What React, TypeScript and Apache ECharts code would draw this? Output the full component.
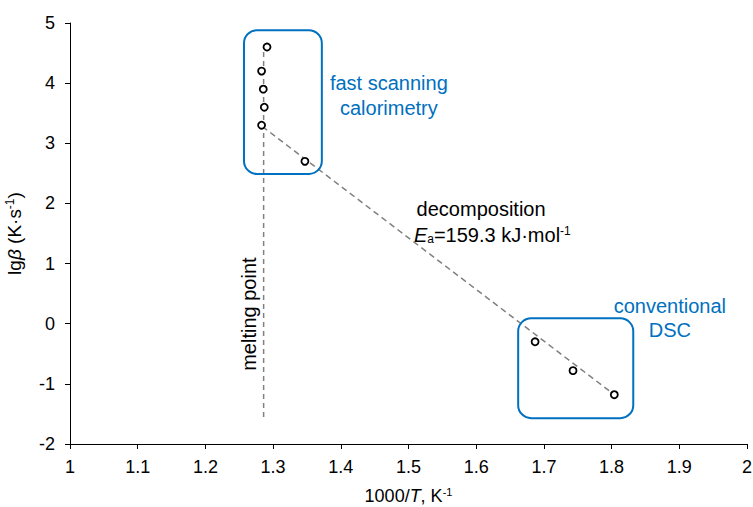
import React, { useEffect, useRef } from "react";
import * as echarts from "echarts";

// Data
const fscX = [1.291, 1.283, 1.2855, 1.287, 1.283, 1.347];
const fscY = [4.6, 4.2, 3.9, 3.6, 3.3, 2.7];
const dscX = [1.687, 1.743, 1.804];
const dscY = [-0.3, -0.78, -1.18];
const fitX = [1.284, 1.804];
const fitY = [3.28, -1.18];
const meltX = [1.286, 1.286];
const meltY = [-1.55, 4.6];

const FONT = "'Liberation Sans', Arial, sans-serif";
const BLUE = "#0070C0";

const zip = (xs: number[], ys: number[]) => xs.map((x, i) => [x, ys[i]]);

export default function App() {
  const ref = useRef<HTMLDivElement>(null);
  useEffect(() => {
    if (!ref.current) return;
    const chart = echarts.init(ref.current, undefined, { renderer: "svg" });
    chart.setOption({
      animation: false,
      backgroundColor: "#fff",
      textStyle: { fontFamily: FONT },
      grid: { left: 70, right: 6, top: 23, bottom: 63, containLabel: false, outerBoundsMode: "none" },
      xAxis: {
        type: "value",
        min: 1,
        max: 2,
        interval: 0.1,
        axisLine: { onZero: false, lineStyle: { color: "#000", width: 1 } },
        axisTick: { show: true, length: 5, lineStyle: { color: "#000" } },
        splitLine: { show: false },
        axisLabel: {
          color: "#000",
          fontSize: 18,
          fontFamily: FONT,
          margin: 14,
          formatter: (v: number) => String(+v.toFixed(1)),
        },
        name: "1000/{i|T}, K{sup|-1}",
        nameLocation: "middle",
        nameGap: 42,
        nameTextStyle: {
          color: "#000",
          fontSize: 18,
          fontFamily: FONT,
          rich: {
            i: { fontStyle: "italic", fontSize: 18, fontFamily: FONT, color: "#000" },
            sup: { fontSize: 11, fontFamily: FONT, color: "#000", verticalAlign: "top", padding: [0, 0, 8, 0] },
          },
        },
      },
      yAxis: {
        type: "value",
        min: -2,
        max: 5,
        interval: 1,
        axisLine: { show: true, onZero: false, lineStyle: { color: "#000", width: 1 } },
        axisTick: { show: true, length: 5, lineStyle: { color: "#000" } },
        splitLine: { show: false },
        axisLabel: { color: "#000", fontSize: 18, fontFamily: FONT, margin: 15 },
        name: "lg{b|β} (K·s{sup|-1})",
        nameLocation: "middle",
        nameGap: 46,
        nameRotate: 90,
        nameTextStyle: {
          color: "#000",
          fontSize: 19,
          fontFamily: FONT,
          rich: {
            b: { fontStyle: "italic", fontSize: 19, fontFamily: FONT, color: "#000" },
            sup: { fontSize: 12, fontFamily: FONT, color: "#000", verticalAlign: "top", padding: [0, 0, 8, 0] },
          },
        },
      },
      series: [
        {
          type: "line",
          data: zip(meltX, meltY),
          showSymbol: false,
          symbol: "none",
          lineStyle: { color: "#808080", width: 1.5, type: [5, 4] },
          z: 1,
        },
        {
          type: "line",
          data: zip(fitX, fitY),
          showSymbol: false,
          symbol: "none",
          lineStyle: { color: "#808080", width: 1.5, type: [6, 4] },
          z: 1,
        },
        {
          type: "scatter",
          data: zip(fscX, fscY).concat(zip(dscX, dscY)),
          symbol: "circle",
          symbolSize: 7,
          itemStyle: { color: "#fff", borderColor: "#000", borderWidth: 1.8, opacity: 1 },
          z: 5,
        },
      ],
    });

    const px = (x: number, y: number) => chart.convertToPixel({ gridIndex: 0 }, [x, y]) as number[];
    const box = (x0: number, y0: number, x1: number, y1: number) => {
      const a = px(x0, y0);
      const b = px(x1, y1);
      return {
        type: "rect",
        z: 10,
        shape: { x: a[0], y: a[1], width: b[0] - a[0], height: b[1] - a[1], r: 13 },
        style: { fill: "none", stroke: BLUE, lineWidth: 2 },
      };
    };
    const text = (x: number, y: number, t: string, fill: string, extra: any = {}) => {
      const p = px(x, y);
      return {
        type: "text",
        z: 10,
        x: p[0],
        y: p[1],
        ...extra,
        style: {
          text: t,
          fill,
          font: `20px ${FONT}`,
          textAlign: "center",
          textVerticalAlign: "middle",
          ...(extra.style || {}),
        },
      };
    };
    const g: any[] = [
      box(1.257, 4.88, 1.372, 2.49),
      box(1.662, 0.09, 1.832, -1.57),
      text(1.471, 4.01, "fast scanning", BLUE),
      text(1.471, 3.59, "calorimetry", BLUE),
      text(1.886, 0.29, "conventional", BLUE),
      text(1.886, -0.11, "DSC", BLUE),
      text(1.512, 1.9, "decomposition", "#000", { style: { textAlign: "left" } }),
      {
        type: "text",
        z: 10,
        x: px(1.508, 1.48)[0],
        y: px(1.508, 1.48)[1],
        style: {
          text: "{i|E}{sub|a}{n|=159.3 kJ·mol}{sup|-1}",
          fill: "#000",
          font: `20px ${FONT}`,
          textAlign: "left",
          textVerticalAlign: "middle",
          rich: {
            i: { fontStyle: "italic", fontSize: 20, fontFamily: FONT, fill: "#000" },
            n: { fontSize: 20, fontFamily: FONT, fill: "#000" },
            sub: { fontSize: 12, fontFamily: FONT, fill: "#000", verticalAlign: "bottom", padding: [8, 0, 0, 0] },
            sup: { fontSize: 12, fontFamily: FONT, fill: "#000", verticalAlign: "top", padding: [0, 0, 8, 0] },
          },
        },
      },
      text(1.265, 0.16, "melting point", "#000", { rotation: Math.PI / 2 }),
    ];
    chart.setOption({ graphic: g });
    return () => chart.dispose();
  }, []);
  return (
    <div
      ref={ref}
      style={{ position: "fixed", left: 0, top: 0, width: 753, height: 507, background: "#fff" }}
    />
  );
}
